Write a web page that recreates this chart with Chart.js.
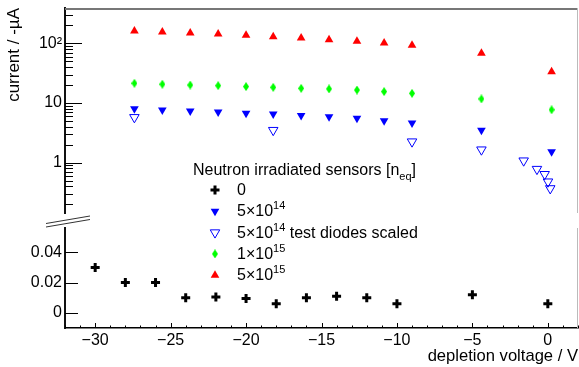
<!DOCTYPE html>
<html>
<head>
<meta charset="utf-8">
<script src="https://cdn.jsdelivr.net/npm/chart.js@4/dist/chart.umd.min.js"></script>
<style>
  html, body { margin: 0; padding: 0; background: #fff; }
  #wrap { width: 579px; height: 367px; }
</style>
</head>
<body>
<div id="wrap"><canvas id="ivChart"></canvas></div>
<script>
(function(){

    // depletion voltage [V] and current [-uA] per fluence
    var voltIrr   = [-27.4, -25.55, -23.7, -21.85, -20.0, -18.2, -16.35, -14.5, -12.65, -10.85, -9.0, -4.4, 0.25];
    var cur5e15   = [161, 155, 149, 143, 136, 129, 123, 115, 108, 101, 92.5, 68, 33.4];
    var cur1e15   = [21.4, 20.6, 20.0, 19.5, 18.8, 18.3, 17.6, 17.2, 16.5, 15.5, 14.5, 11.7, 7.7];
    var cur5e14   = [8.0, 7.6, 7.35, 7.05, 6.7, 6.55, 6.2, 5.9, 5.55, 5.05, 4.6, 3.5, 1.53];
    var voltDiode = [-27.4, -18.2, -9.0, -4.4, -1.6, -0.72, -0.21, 0.01, 0.16];
    var curDiode  = [5.75, 3.5, 2.25, 1.65, 1.08, 0.78, 0.64, 0.48, 0.37];
    var voltUnirr = [-30, -28, -26, -24, -22, -20, -18, -16, -14, -12, -10, -5, 0];
    var curUnirr  = [0.03, 0.02, 0.02, 0.01, 0.0105, 0.0095, 0.006, 0.01, 0.011, 0.01, 0.006, 0.012, 0.006];

    // axis ticks
    var xTicks   = [-30, -25, -20, -15, -10, -5, 0];
    var linTicks = [0, 0.02, 0.04];
    var logTicks = [1, 10, 100];
    var logLabels = ['1', '10', '10\u00b2'];

    var legendTitle = 'Neutron irradiated sensors [n^_eq]';
    var seriesNames = ['0', '5\u00d710^14', '5\u00d710^14 test diodes scaled', '1\u00d710^15', '5\u00d710^15'];

    var FONT = '"Liberation Sans", Arial, Helvetica, sans-serif';

    function pts(xs, ys) {
        return xs.map(function (x, i) { return {x: x, y: ys[i]}; });
    }

    // thin vertical diamond marker (no built-in style has this aspect)
    function diamond(w, h, color) {
        var c = document.createElement('canvas');
        c.width = w; c.height = h;
        var g = c.getContext('2d');
        g.fillStyle = color;
        g.beginPath();
        g.moveTo(w / 2, 0); g.lineTo(w, h / 2); g.lineTo(w / 2, h); g.lineTo(0, h / 2);
        g.closePath();
        g.fill();
        return c;
    }

    var datasets = [
        { label: seriesNames[0], data: pts(voltUnirr, curUnirr), yAxisID: 'yLin',
          pointStyle: 'cross', pointRadius: 4.5, pointBorderWidth: 3,
          pointBorderColor: '#000', pointBackgroundColor: '#000' },
        { label: seriesNames[1], data: pts(voltIrr, cur5e14), yAxisID: 'yLog',
          pointStyle: 'triangle', pointRotation: 180, pointRadius: 5, pointBorderWidth: 0,
          pointBorderColor: '#0000ff', pointBackgroundColor: '#0000ff' },
        { label: seriesNames[2], data: pts(voltDiode, curDiode), yAxisID: 'yLog',
          pointStyle: 'triangle', pointRotation: 180, pointRadius: 5.5, pointBorderWidth: 1,
          pointBorderColor: '#0000ff', pointBackgroundColor: 'rgba(0,0,0,0)' },
        { label: seriesNames[3], data: pts(voltIrr, cur1e15), yAxisID: 'yLog',
          pointStyle: diamond(6, 9, '#00ff00'), pointRadius: 4, pointBorderWidth: 0,
          pointBorderColor: '#00ff00', pointBackgroundColor: '#00ff00' },
        { label: seriesNames[4], data: pts(voltIrr, cur5e15), yAxisID: 'yLog',
          pointStyle: 'triangle', pointRadius: 5, pointBorderWidth: 0,
          pointBorderColor: '#ff0000', pointBackgroundColor: '#ff0000' }
    ];

    function line(ctx, x1, y1, x2, y2) {
        ctx.beginPath(); ctx.moveTo(x1, y1); ctx.lineTo(x2, y2); ctx.stroke();
    }

    // text with ^sup and ^_sub pieces
    function richText(ctx, str, x, y) {
        var parts = str.split(/\^(_?\w+)/);
        parts.forEach(function (p, i) {
            if (!p) return;
            var dy = 0;
            if (i % 2 === 1) {
                var sub = p.charAt(0) === '_';
                if (sub) p = p.slice(1);
                ctx.font = '11px ' + FONT;
                dy = sub ? 5 : -7;
            } else {
                ctx.font = '16px ' + FONT;
            }
            ctx.fillText(p, x, y + dy);
            x += ctx.measureText(p).width;
        });
    }

    var axisDecor = {
        id: 'axisDecor',
        afterDraw: function (chart) {
            var ctx = chart.ctx;
            var sx = chart.scales.x, sl = chart.scales.yLog, sn = chart.scales.yLin;
            ctx.save();

            // top and right frame edges
            ctx.strokeStyle = '#777'; ctx.lineWidth = 2;
            line(ctx, sx.left, sl.top + 1, sx.right, sl.top + 1);
            ctx.strokeStyle = '#bbb'; ctx.lineWidth = 1;
            line(ctx, sx.right - 0.5, sl.top, sx.right - 0.5, sl.bottom);
            line(ctx, sx.right - 0.5, sn.top, sx.right - 0.5, sn.bottom);

            // inward tick marks
            ctx.strokeStyle = '#000'; ctx.lineWidth = 1;
            for (var v = Math.ceil(sx.min); v <= sx.max; v++) {
                var px = Math.round(sx.getPixelForValue(v)) + 0.5;
                line(ctx, px, sx.top, px, sx.top - (v % 5 === 0 ? 5 : 2.5));
            }
            for (var d = -1; d <= 2; d++) {
                for (var k = 1; k <= 9; k++) {
                    var val = k * Math.pow(10, d);
                    if (val < sl.min || val > sl.max) continue;
                    var py = Math.round(sl.getPixelForValue(val)) + 0.5;
                    line(ctx, sl.right, py, sl.right + (k === 1 ? 17 : 8), py);
                }
            }
            linTicks.forEach(function (t) {
                var py = Math.round(sn.getPixelForValue(t)) + 0.5;
                line(ctx, sn.right, py, sn.right + 13, py);
            });

            // axis break between the log and linear parts
            var bx = sl.right, by = (sl.bottom + sn.top) / 2 + 1;
            ctx.fillStyle = '#fff';
            ctx.beginPath();
            ctx.moveTo(bx - 19, by + 2); ctx.lineTo(bx + 25, by - 5);
            ctx.lineTo(bx + 25, by - 2); ctx.lineTo(bx - 19, by + 5.5);
            ctx.closePath(); ctx.fill();
            ctx.strokeStyle = '#333';
            line(ctx, bx - 19, by + 2, bx + 25, by - 5.5);
            line(ctx, bx - 19, by + 5.5, bx + 25, by - 2);

            // legend
            ctx.fillStyle = '#000';
            ctx.textBaseline = 'alphabetic';
            richText(ctx, legendTitle, 193, 175);
            datasets.forEach(function (ds, i) {
                var base = 195 + i * 21.3;
                ctx.fillStyle = ds.pointBackgroundColor;
                ctx.strokeStyle = ds.pointBorderColor;
                ctx.lineWidth = ds.pointBorderWidth;
                Chart.helpers.drawPoint(ctx, {
                    pointStyle: ds.pointStyle, radius: ds.pointRadius,
                    rotation: ds.pointRotation || 0, borderWidth: ds.pointBorderWidth
                }, 215, base - 5);
                ctx.fillStyle = '#000';
                richText(ctx, ds.label, 237, base);
            });
            ctx.restore();
        }
    };

    // fixed axis sizes, no extra room for overhanging labels
    function fixWidth(s) {
        s.width = 65;
        s.paddingTop = 0; s.paddingBottom = 0;
    }

    var hidden = { display: false };

    new Chart(document.getElementById('ivChart'), {
        type: 'scatter',
        data: { datasets: datasets },
        plugins: [axisDecor],
        options: {
            animation: false,
            responsive: true,
            maintainAspectRatio: false,
            layout: { autoPadding: false, padding: { top: 8, right: 1, left: 0, bottom: 0 } },
            plugins: { legend: hidden, tooltip: { enabled: false } },
            scales: {
                x: {
                    type: 'linear', min: -32, max: 2,
                    afterBuildTicks: function (s) { s.ticks = xTicks.map(function (v) { return {value: v}; }); },
                    afterFit: function (s) { s.height = 39; s.paddingLeft = 0; s.paddingRight = 0; },
                    ticks: {
                        color: '#000', padding: 3, maxRotation: 0, autoSkip: false,
                        font: { family: FONT, size: 16 },
                        callback: function (v) { return v < 0 ? '\u2212' + (-v) : String(v); }
                    },
                    grid: { display: false, drawTicks: false },
                    border: { color: '#000', width: 1.5 },
                    title: {
                        display: true, text: 'depletion voltage / V', align: 'end', color: '#000',
                        font: { family: FONT, size: 16.6 }, padding: { top: 0, bottom: 1 }
                    }
                },
                yLin: {
                    type: 'linear', position: 'left', stack: 'y', stackWeight: 100,
                    min: -0.01, max: 0.056,
                    afterBuildTicks: function (s) { s.ticks = linTicks.map(function (v) { return {value: v}; }); },
                    afterFit: fixWidth,
                    ticks: {
                        color: '#000', padding: 3, autoSkip: false,
                        font: { family: FONT, size: 16 },
                        callback: function (v) { return v === 0 ? '0' : v.toFixed(2); }
                    },
                    grid: { display: false, drawTicks: false },
                    border: { color: '#111', width: 2 }
                },
                yGap: {
                    type: 'linear', position: 'left', stack: 'y', stackWeight: 15,
                    afterFit: fixWidth,
                    ticks: hidden,
                    grid: { display: false, drawTicks: false },
                    border: hidden
                },
                yLog: {
                    type: 'logarithmic', position: 'left', stack: 'y', stackWeight: 205,
                    min: 0.1436, max: 390,
                    afterBuildTicks: function (s) { s.ticks = logTicks.map(function (v) { return {value: v}; }); },
                    afterFit: fixWidth,
                    ticks: {
                        color: '#000', padding: 3, autoSkip: false,
                        font: { family: FONT, size: 16 },
                        callback: function (v) { return logLabels[logTicks.indexOf(v)]; }
                    },
                    grid: { display: false, drawTicks: false },
                    border: { color: '#111', width: 2 },
                    title: {
                        display: true, text: 'current / -\u00b5A', align: 'end', color: '#000',
                        font: { family: FONT, size: 17 }, padding: { top: 4, bottom: 0 }
                    }
                }
            }
        }
    });

})();
</script>
</body>
</html>
